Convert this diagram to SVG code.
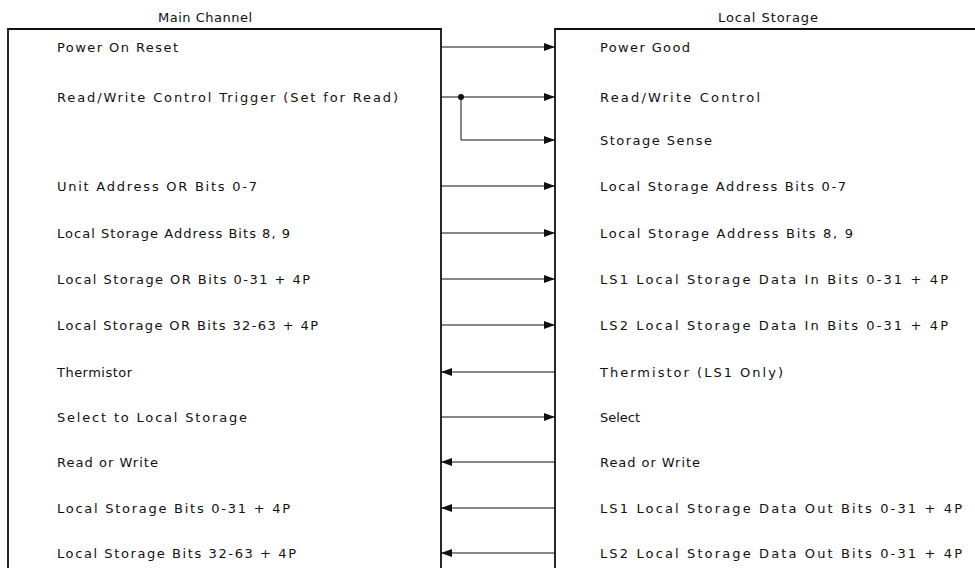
<svg xmlns="http://www.w3.org/2000/svg" width="975" height="568" viewBox="0 0 975 568">
<style>
text{font-family:"DejaVu Sans","Liberation Sans",Arial,sans-serif;font-size:13px;fill:#111}
.box{fill:none;stroke:#111;stroke-width:1.8}
.c{stroke:#111;stroke-width:1;fill:none}
</style>
<defs>
<marker id="ah" viewBox="0 0 11 8" refX="11" refY="4" markerWidth="11" markerHeight="8" markerUnits="userSpaceOnUse" orient="auto">
<path d="M0,0 L11,4 L0,8 Z" fill="#111"/>
</marker>
</defs>
<rect width="975" height="568" fill="#fff"/>
<g id="main-channel">
<text x="205" y="22" text-anchor="middle" textLength="94" lengthAdjust="spacing">Main Channel</text>
<path class="box" d="M8,570 V29 H441 V570"/>
<text x="57" y="52" textLength="121" lengthAdjust="spacing">Power On Reset</text>
<text x="57" y="102" textLength="341" lengthAdjust="spacing">Read/Write Control Trigger (Set for Read)</text>
<text x="57" y="191" textLength="200" lengthAdjust="spacing">Unit Address OR Bits 0-7</text>
<text x="57" y="238" textLength="233" lengthAdjust="spacing">Local Storage Address Bits 8, 9</text>
<text x="57" y="284" textLength="253" lengthAdjust="spacing">Local Storage OR Bits 0-31 + 4P</text>
<text x="57" y="330" textLength="261" lengthAdjust="spacing">Local Storage OR Bits 32-63 + 4P</text>
<text x="57" y="377" textLength="75" lengthAdjust="spacing">Thermistor</text>
<text x="57" y="422" textLength="190" lengthAdjust="spacing">Select to Local Storage</text>
<text x="57" y="467" textLength="101" lengthAdjust="spacing">Read or Write</text>
<text x="57" y="513" textLength="233" lengthAdjust="spacing">Local Storage Bits 0-31 + 4P</text>
<text x="57" y="558" textLength="239" lengthAdjust="spacing">Local Storage Bits 32-63 + 4P</text>
</g>
<g id="local-storage">
<text x="768" y="22" text-anchor="middle" textLength="100" lengthAdjust="spacing">Local Storage</text>
<path class="box" d="M555,570 V29 H977"/>
<text x="600" y="52" textLength="90" lengthAdjust="spacing">Power Good</text>
<text x="600" y="102" textLength="160" lengthAdjust="spacing">Read/Write Control</text>
<text x="600" y="145" textLength="112" lengthAdjust="spacing">Storage Sense</text>
<text x="600" y="191" textLength="246" lengthAdjust="spacing">Local Storage Address Bits 0-7</text>
<text x="600" y="238" textLength="253" lengthAdjust="spacing">Local Storage Address Bits 8, 9</text>
<text x="600" y="284" textLength="348" lengthAdjust="spacing">LS1 Local Storage Data In Bits 0-31 + 4P</text>
<text x="600" y="330" textLength="348" lengthAdjust="spacing">LS2 Local Storage Data In Bits 0-31 + 4P</text>
<text x="600" y="377" textLength="183" lengthAdjust="spacing">Thermistor (LS1 Only)</text>
<text x="600" y="422" textLength="40" lengthAdjust="spacing">Select</text>
<text x="600" y="467" textLength="100" lengthAdjust="spacing">Read or Write</text>
<text x="600" y="513" textLength="362" lengthAdjust="spacing">LS1 Local Storage Data Out Bits 0-31 + 4P</text>
<text x="600" y="558" textLength="362" lengthAdjust="spacing">LS2 Local Storage Data Out Bits 0-31 + 4P</text>
</g>
<g id="connectors">
<path class="c" d="M441,47 H555" marker-end="url(#ah)"/>
<path class="c" d="M441,97 H555" marker-end="url(#ah)"/>
<path class="c" d="M461,97 V140 H555" marker-end="url(#ah)"/>
<circle cx="461" cy="97" r="3" fill="#111"/>
<path class="c" d="M441,186 H555" marker-end="url(#ah)"/>
<path class="c" d="M441,233 H555" marker-end="url(#ah)"/>
<path class="c" d="M441,279 H555" marker-end="url(#ah)"/>
<path class="c" d="M441,325 H555" marker-end="url(#ah)"/>
<path class="c" d="M555,372 H441" marker-end="url(#ah)"/>
<path class="c" d="M441,417 H555" marker-end="url(#ah)"/>
<path class="c" d="M555,462 H441" marker-end="url(#ah)"/>
<path class="c" d="M555,508 H441" marker-end="url(#ah)"/>
<path class="c" d="M555,553 H441" marker-end="url(#ah)"/>
</g>
</svg>
